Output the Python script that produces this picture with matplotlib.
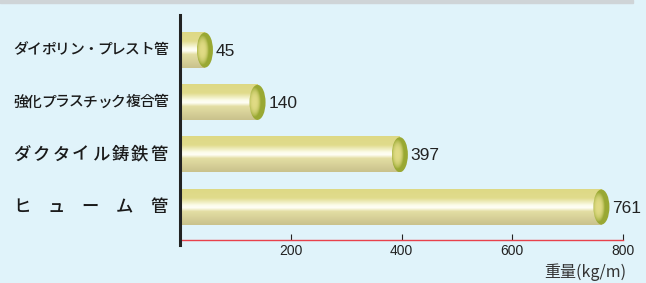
import numpy as np
import matplotlib
matplotlib.use('Agg')
import matplotlib.pyplot as plt
import matplotlib.patches as mpatches
from matplotlib.transforms import blended_transform_factory

plt.rcParams['font.family'] = ['Liberation Sans', 'Noto Sans CJK JP', 'DejaVu Sans']

categories = ['ダイポリン・プレスト管', '強化プラスチック複合管', 'ダクタイル鋳鉄管', 'ヒューム管']
weights = [45, 140, 397, 761]
xticks = [200, 400, 600, 800]
unit_label = '重量(kg/m)'

W, H = 646, 283
bg = '#e0f3fa'
fig = plt.figure(figsize=(W / 100, H / 100), dpi=100, facecolor=bg)
# gray band at top
fig.patches.append(mpatches.Rectangle((0, 1 - 2.5 / H), 633 / W, 2.5 / H,
                                      transform=fig.transFigure, color='#cfd4d7', zorder=0))

ax = fig.add_axes([180 / W, 1 - 240 / H, 443 / W, 225 / H])
ax.set_facecolor(bg)
ax.set_xlim(0, 800)
ax.set_ylim(3.63, -0.67)

bh = 0.67
cap_w = 29  # ellipse width in data units

# vertical gradient for the cylinder body
stops = np.array([0.0, 0.25, 0.45, 0.52, 0.62, 1.0])
cols = np.array([
    [0.87, 0.85, 0.52],
    [0.88, 0.86, 0.55],
    [0.99, 0.99, 0.92],
    [1.00, 1.00, 0.97],
    [0.89, 0.87, 0.64],
    [0.79, 0.76, 0.55],
])
t = np.linspace(0, 1, 120)
grad = np.stack([np.interp(t, stops, cols[:, k]) for k in range(3)], axis=1)[:, None, :]

for i, v in enumerate(weights):
    top, bot = i - bh / 2, i + bh / 2
    ax.imshow(grad, extent=[0, v, bot, top], aspect='auto', zorder=2, interpolation='bilinear')
    # end cap, shaded ellipse
    xs = np.linspace(-1, 1, 60)
    ys = np.linspace(-1, 1, 60)
    X, Y = np.meshgrid(xs, ys)
    d = np.sqrt(((X + 0.35) / 0.75) ** 2 + (Y / 0.85) ** 2)
    d = np.clip(d, 0, 1)
    inner = np.array([0.88, 0.86, 0.52])
    rim = np.array([0.60, 0.66, 0.20])
    img = inner[None, None, :] * (1 - d[..., None] ** 3) + rim[None, None, :] * d[..., None] ** 3
    im = ax.imshow(img, extent=[v - cap_w / 2, v + cap_w / 2, bot, top], aspect='auto',
                   zorder=3, interpolation='bilinear')
    ell = mpatches.Ellipse((v, i), cap_w, bh, transform=ax.transData, facecolor='none',
                           edgecolor='none')
    ax.add_patch(ell)
    im.set_clip_path(ell)
    ax.text(v + cap_w / 2 + 5, i + 0.02, str(v), va='center', ha='left',
            fontsize=12.5, color='#222222')

# category labels, spread across a fixed width
trans = blended_transform_factory(fig.transFigure, ax.transData)
left_px, right_px = 13, 168
for i, lab in enumerate(categories):
    n = len(lab)
    fs = min(12.5, (right_px - left_px) / n * 1.05 * 72 / 100)
    cw = fs * 100 / 72
    xs_c = np.linspace(left_px + cw / 2, right_px - cw / 2, n)
    for ch, xc in zip(lab, xs_c):
        ax.text(xc / W, i, ch, transform=trans, ha='center', va='center',
                fontsize=fs, color='#1a1a1a', family=['Noto Sans CJK JP', 'DejaVu Sans'],
                weight='medium')

for s in ['top', 'right']:
    ax.spines[s].set_visible(False)
ax.spines['left'].set_color('#222222')
ax.spines['left'].set_linewidth(2.2)
ax.spines['left'].set_bounds(3.72, -0.67)
ax.spines['left'].set_zorder(5)
ax.spines['bottom'].set_color('#e8404a')
ax.spines['bottom'].set_linewidth(1.0)
ax.set_yticks([])
ax.set_xticks(xticks)
ax.set_xticklabels([str(x) for x in xticks])
ax.tick_params(axis='x', direction='in', length=4, width=0.8, color='#222222',
               labelsize=10, labelcolor='#222222', pad=3)

fig.text(626 / W, 1 - 272 / H, unit_label, ha='right', va='center', fontsize=11.5,
         color='#333333', family=['Noto Sans CJK JP', 'DejaVu Sans'])

fig.savefig('out.png', dpi=100, facecolor=bg)
